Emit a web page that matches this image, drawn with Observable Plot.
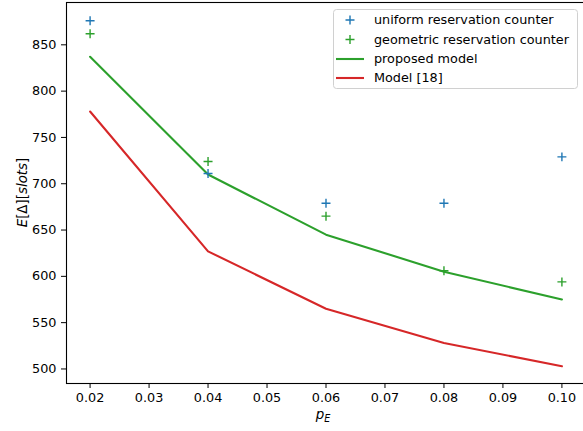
<!DOCTYPE html>
<html>
<head>
<meta charset="utf-8">
<script src="https://cdn.jsdelivr.net/npm/d3@7"></script>
<script src="https://cdn.jsdelivr.net/npm/@observablehq/plot@0.6"></script>
<style>
  html, body { margin: 0; padding: 0; background: #fff; }
  #chart svg { display: block; }
</style>
</head>
<body>
<div id="chart"></div>
<script>
// Erasure probability p_E on the x axis
const pE = [0.02, 0.04, 0.06, 0.08, 0.10];

// Expected Δ in slots, per series
const uniformCounter = [876, 711, 679, 679, 729];
const geometricCounter = [862, 724, 665, 606, 594];
const proposedModel = [837, 710, 645, 605, 575];
const model18 = [778, 627, 565, 528, 503];

const xTicks = [0.02, 0.03, 0.04, 0.05, 0.06, 0.07, 0.08, 0.09, 0.10];
const yTicks = [500, 550, 600, 650, 700, 750, 800, 850];

const seriesNames = ["uniform reservation counter", "geometric reservation counter", "proposed model", "Model [18]"];
const seriesColors = ["#1f77b4", "#2ca02c", "#2ca02c", "#d62728"];

const toRows = (vals) => pE.map((p, i) => ({p, v: vals[i]}));

const W = 583, H = 431;
const FONT = "DejaVu Sans, sans-serif";
const FS = 12.8;

const chart = Plot.plot({
  width: W,
  height: H,
  marginLeft: 66,
  marginRight: -2,
  marginTop: 2,
  marginBottom: 48,
  style: {fontFamily: FONT, fontSize: FS + "px", color: "black", background: "white", overflow: "hidden"},
  x: {domain: [0.016, 0.104], label: null},
  y: {domain: [484.3, 895.7], label: null},
  marks: [
    Plot.axisX({ticks: xTicks, tickFormat: d3.format(".2f"), tickSize: 5, tickPadding: 4, label: null, fontSize: FS}),
    Plot.axisY({ticks: yTicks, tickFormat: d3.format("d"), tickSize: 5, tickPadding: 5, label: null, fontSize: FS}),
    Plot.line(toRows(proposedModel), {x: "p", y: "v", stroke: seriesColors[2], strokeWidth: 2.1}),
    Plot.line(toRows(model18), {x: "p", y: "v", stroke: seriesColors[3], strokeWidth: 2.1}),
    Plot.dot(toRows(uniformCounter), {x: "p", y: "v", symbol: "plus", r: 3, stroke: seriesColors[0], strokeWidth: 1.4}),
    Plot.dot(toRows(geometricCounter), {x: "p", y: "v", symbol: "plus", r: 3, stroke: seriesColors[1], strokeWidth: 1.4}),
    Plot.frame({stroke: "black", strokeWidth: 1.1})
  ]
});

document.getElementById("chart").appendChild(chart);

const svg = d3.select(chart);

// y axis label: E[Δ][slots]
const yl = svg.append("text")
  .attr("transform", "translate(27,192.5) rotate(-90)")
  .attr("text-anchor", "middle")
  .attr("font-family", FONT)
  .attr("font-size", 13.4)
  .attr("fill", "black");
yl.append("tspan").attr("font-style", "italic").text("E");
yl.append("tspan").text("[Δ][");
yl.append("tspan").attr("font-style", "italic").text("slots");
yl.append("tspan").text("]");

// x axis label: p_E
const xl = svg.append("text")
  .attr("x", 323)
  .attr("y", 419)
  .attr("text-anchor", "middle")
  .attr("font-family", FONT)
  .attr("font-size", 13.4)
  .attr("fill", "black");
xl.append("tspan").attr("font-style", "italic").text("p");
xl.append("tspan").attr("font-style", "italic").attr("font-size", 9.6).attr("dy", 3).text("E");

// legend
const lg = svg.append("g").attr("font-family", FONT).attr("font-size", FS).attr("text-anchor", "start");
lg.append("rect")
  .attr("x", 333.5).attr("y", 9.5).attr("width", 244).attr("height", 79)
  .attr("rx", 3).attr("fill", "white").attr("fill-opacity", 0.8)
  .attr("stroke", "#d0d0d0").attr("stroke-width", 1);
const rowY = [20, 39.5, 59, 78];
seriesNames.forEach((name, i) => {
  const y = rowY[i];
  if (i < 2) {
    lg.append("path")
      .attr("d", `M${350 - 4.5},${y}H${350 + 4.5}M350,${y - 4.5}V${y + 4.5}`)
      .attr("stroke", seriesColors[i]).attr("stroke-width", 1.4).attr("fill", "none");
  } else {
    lg.append("line")
      .attr("x1", 336).attr("x2", 364).attr("y1", y).attr("y2", y)
      .attr("stroke", seriesColors[i]).attr("stroke-width", 2.1);
  }
  lg.append("text").attr("x", 374).attr("y", y).attr("dy", "0.35em")
    .attr("fill", "black").text(name);
});
</script>
</body>
</html>
